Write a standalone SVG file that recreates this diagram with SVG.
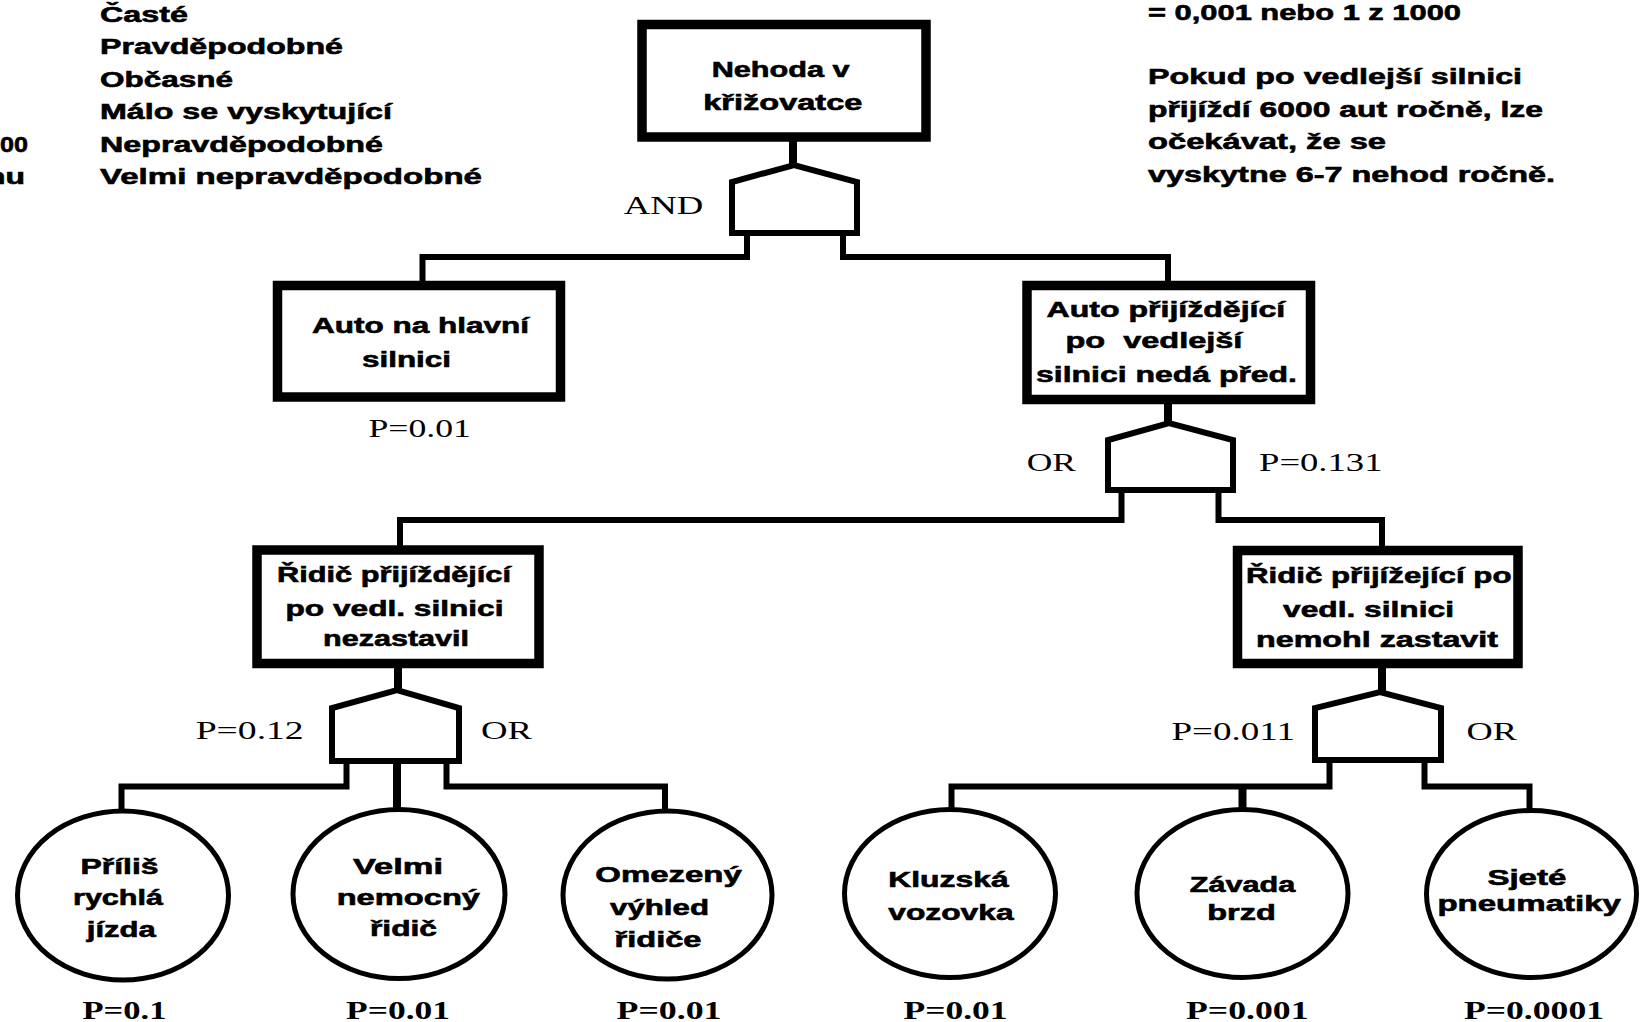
<svg xmlns="http://www.w3.org/2000/svg" width="1641" height="1022" viewBox="0 0 1641 1022">
<style>
.b{font-family:"Liberation Sans",Arial,sans-serif;font-weight:bold;font-size:22px;fill:#000;stroke:#000;stroke-width:0.6}
.s{font-family:"Liberation Serif","Times New Roman",serif;font-size:26px;fill:#000}
.sb{font-family:"Liberation Serif","Times New Roman",serif;font-size:26px;font-weight:bold;fill:#000}
.box{fill:#fff;stroke:#000;stroke-width:9.5}
.gate{fill:#fff;stroke:#000;stroke-width:6;stroke-linejoin:miter}
.ev{fill:#fff;stroke:#000;stroke-width:5}
.c{fill:none;stroke:#000;stroke-width:6;stroke-linejoin:miter;stroke-linecap:square}
.cs{fill:none;stroke:#000;stroke-width:8}
</style>
<rect x="0" y="0" width="1641" height="1022" fill="#fff"/>

<g id="legend">
<text class="b" x="100" y="21.7" textLength="88" lengthAdjust="spacingAndGlyphs">Časté</text>
<text class="b" x="100" y="54" textLength="243" lengthAdjust="spacingAndGlyphs">Pravděpodobné</text>
<text class="b" x="100" y="86.7" textLength="133" lengthAdjust="spacingAndGlyphs">Občasné</text>
<text class="b" x="100" y="119.3" textLength="292" lengthAdjust="spacingAndGlyphs">Málo se vyskytující</text>
<text class="b" x="100" y="151.7" textLength="283" lengthAdjust="spacingAndGlyphs">Nepravděpodobné</text>
<text class="b" x="100" y="183.5" textLength="382" lengthAdjust="spacingAndGlyphs">Velmi nepravděpodobné</text>
<text class="b" x="0" y="151.7" textLength="28" lengthAdjust="spacingAndGlyphs">00</text>
<text class="b" x="-14" y="183.5" textLength="39" lengthAdjust="spacingAndGlyphs">nu</text>
</g>

<g id="note">
<text class="b" x="1148" y="19.5" textLength="313" lengthAdjust="spacingAndGlyphs">= 0,001 nebo 1 z 1000</text>
<text class="b" x="1148" y="84" textLength="374" lengthAdjust="spacingAndGlyphs">Pokud po vedlejší silnici</text>
<text class="b" x="1148" y="116.5" textLength="395" lengthAdjust="spacingAndGlyphs">přijíždí 6000 aut ročně, lze</text>
<text class="b" x="1148" y="149" textLength="238" lengthAdjust="spacingAndGlyphs">očekávat, že se</text>
<text class="b" x="1148" y="181.5" textLength="407" lengthAdjust="spacingAndGlyphs">vyskytne 6-7 nehod ročně.</text>
</g>

<g id="connectors">
<line class="cs" x1="793" y1="137" x2="793" y2="166"/>
<polyline class="c" points="747,233 747,257 422.5,257 422.5,284"/>
<polyline class="c" points="843,233 843,257 1168,257 1168,284"/>
<line class="cs" x1="1168" y1="399" x2="1168" y2="424"/>
<polyline class="c" points="1121.5,490 1121.5,520 400,520 400,549"/>
<polyline class="c" points="1218.5,490 1218.5,520 1382,520 1382,549"/>
<line class="cs" x1="398" y1="663" x2="398" y2="691"/>
<polyline class="c" points="346.5,761 346.5,786.5 121.5,786.5 121.5,810"/>
<line class="cs" x1="397" y1="761" x2="397" y2="809"/>
<polyline class="c" points="446.5,761 446.5,786.5 665,786.5 665,810"/>
<line class="cs" x1="1382" y1="663" x2="1382" y2="693"/>
<polyline class="c" points="1329.5,760 1329.5,786.5 951.5,786.5 951.5,809"/>
<line class="cs" x1="1242.5" y1="786.5" x2="1242.5" y2="809"/>
<polyline class="c" points="1424.5,760 1424.5,786.5 1529.5,786.5 1529.5,810"/>
</g>

<g id="top-event">
<rect class="box" x="642" y="24.5" width="284" height="112.5"/>
<text class="b" x="711.7" y="77" textLength="138" lengthAdjust="spacingAndGlyphs">Nehoda v</text>
<text class="b" x="703.3" y="109.5" textLength="159" lengthAdjust="spacingAndGlyphs">křižovatce</text>
</g>

<g id="gate-and">
<polygon class="gate" points="732,233 732,182 794,165 857,182 857,233"/>
<text class="s" x="623.8" y="213.5" textLength="79.5" lengthAdjust="spacingAndGlyphs">AND</text>
</g>

<g id="main-road">
<rect class="box" x="277.5" y="285.5" width="283" height="111.5"/>
<text class="b" x="312" y="332.5" textLength="217" lengthAdjust="spacingAndGlyphs">Auto na hlavní</text>
<text class="b" x="362" y="366.5" textLength="89" lengthAdjust="spacingAndGlyphs">silnici</text>
<text class="s" x="368.4" y="436.5" textLength="102.5" lengthAdjust="spacingAndGlyphs">P=0.01</text>
</g>

<g id="side-road">
<rect class="box" x="1027" y="285.5" width="283.5" height="114"/>
<text class="b" x="1046.6" y="317" textLength="238.6" lengthAdjust="spacingAndGlyphs">Auto přijíždějící</text>
<text class="b" x="1065.4" y="348" textLength="177" lengthAdjust="spacingAndGlyphs" xml:space="preserve">po  vedlejší</text>
<text class="b" x="1036" y="381.6" textLength="261" lengthAdjust="spacingAndGlyphs">silnici nedá před.</text>
</g>

<g id="gate-or-1">
<polygon class="gate" points="1108,490 1108,440 1169,423 1233,440 1233,490"/>
<text class="s" x="1026.7" y="471" textLength="49.3" lengthAdjust="spacingAndGlyphs">OR</text>
<text class="s" x="1259" y="471" textLength="123.5" lengthAdjust="spacingAndGlyphs">P=0.131</text>
</g>

<g id="did-not-stop">
<rect class="box" x="257" y="550" width="282" height="113.5"/>
<text class="b" x="277" y="581.5" textLength="234" lengthAdjust="spacingAndGlyphs">Řidič přijíždějící</text>
<text class="b" x="285.5" y="615.5" textLength="218" lengthAdjust="spacingAndGlyphs">po vedl. silnici</text>
<text class="b" x="323" y="645.5" textLength="146" lengthAdjust="spacingAndGlyphs">nezastavil</text>
</g>

<g id="could-not-stop">
<rect class="box" x="1237.5" y="550.5" width="280.5" height="113"/>
<text class="b" x="1246" y="583" textLength="265.5" lengthAdjust="spacingAndGlyphs">Řidič přijížející po</text>
<text class="b" x="1283" y="617" textLength="171" lengthAdjust="spacingAndGlyphs">vedl. silnici</text>
<text class="b" x="1256" y="647" textLength="242" lengthAdjust="spacingAndGlyphs">nemohl zastavit</text>
</g>

<g id="gate-or-2">
<polygon class="gate" points="332,761 332,708 397,690 459,708 459,761"/>
<text class="s" x="195.7" y="739" textLength="108" lengthAdjust="spacingAndGlyphs">P=0.12</text>
<text class="s" x="481" y="739" textLength="51" lengthAdjust="spacingAndGlyphs">OR</text>
</g>

<g id="gate-or-3">
<polygon class="gate" points="1315,760 1315,708 1380,692 1441,708 1441,760"/>
<text class="s" x="1171.5" y="740" textLength="123.5" lengthAdjust="spacingAndGlyphs">P=0.011</text>
<text class="s" x="1466.5" y="740" textLength="50.5" lengthAdjust="spacingAndGlyphs">OR</text>
</g>

<g id="speeding">
<ellipse class="ev" cx="123" cy="895.5" rx="105.5" ry="84.5"/>
<text class="b" x="80.5" y="873.5" textLength="78" lengthAdjust="spacingAndGlyphs">Příliš</text>
<text class="b" x="73" y="905" textLength="90" lengthAdjust="spacingAndGlyphs">rychlá</text>
<text class="b" x="86.8" y="937" textLength="69" lengthAdjust="spacingAndGlyphs">jízda</text>
<text class="sb" x="82.5" y="1019" textLength="84" lengthAdjust="spacingAndGlyphs">P=0.1</text>
</g>

<g id="sick-driver">
<ellipse class="ev" cx="399" cy="894" rx="106" ry="84.5"/>
<text class="b" x="353" y="873.5" textLength="90" lengthAdjust="spacingAndGlyphs">Velmi</text>
<text class="b" x="336.7" y="905" textLength="143.3" lengthAdjust="spacingAndGlyphs">nemocný</text>
<text class="b" x="370" y="935.5" textLength="67" lengthAdjust="spacingAndGlyphs">řidič</text>
<text class="sb" x="346" y="1019" textLength="104" lengthAdjust="spacingAndGlyphs">P=0.01</text>
</g>

<g id="limited-view">
<ellipse class="ev" cx="667.5" cy="895" rx="104.5" ry="84"/>
<text class="b" x="595.3" y="882" textLength="146.5" lengthAdjust="spacingAndGlyphs">Omezený</text>
<text class="b" x="610" y="914.5" textLength="99" lengthAdjust="spacingAndGlyphs">výhled</text>
<text class="b" x="614.5" y="947" textLength="87" lengthAdjust="spacingAndGlyphs">řidiče</text>
<text class="sb" x="616.5" y="1019" textLength="105" lengthAdjust="spacingAndGlyphs">P=0.01</text>
</g>

<g id="slippery-road">
<ellipse class="ev" cx="950" cy="893.5" rx="105.5" ry="84"/>
<text class="b" x="888.3" y="887" textLength="120.3" lengthAdjust="spacingAndGlyphs">Kluzská</text>
<text class="b" x="888.3" y="920" textLength="125.3" lengthAdjust="spacingAndGlyphs">vozovka</text>
<text class="sb" x="903.5" y="1019" textLength="104" lengthAdjust="spacingAndGlyphs">P=0.01</text>
</g>

<g id="brake-failure">
<ellipse class="ev" cx="1242.5" cy="893.5" rx="105.5" ry="84"/>
<text class="b" x="1189.7" y="891.5" textLength="105.5" lengthAdjust="spacingAndGlyphs">Závada</text>
<text class="b" x="1207.2" y="920" textLength="68.6" lengthAdjust="spacingAndGlyphs">brzd</text>
<text class="sb" x="1186" y="1019" textLength="122.5" lengthAdjust="spacingAndGlyphs">P=0.001</text>
</g>

<g id="worn-tyres">
<ellipse class="ev" cx="1531.5" cy="894" rx="105" ry="83.5"/>
<text class="b" x="1487.4" y="885" textLength="79" lengthAdjust="spacingAndGlyphs">Sjeté</text>
<text class="b" x="1437.4" y="911" textLength="183.6" lengthAdjust="spacingAndGlyphs">pneumatiky</text>
<text class="sb" x="1464" y="1019" textLength="140" lengthAdjust="spacingAndGlyphs">P=0.0001</text>
</g>
</svg>
